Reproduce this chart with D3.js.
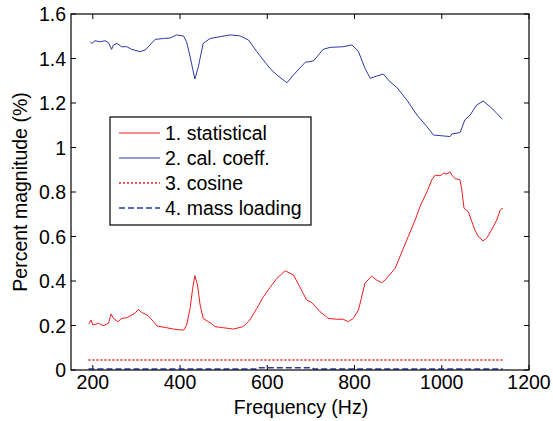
<!DOCTYPE html>
<html>
<head>
<meta charset="utf-8">
<script src="https://cdn.jsdelivr.net/npm/d3@7"></script>
<style>
  body { margin: 0; background: #fff; }
  svg text { font-family: "Liberation Sans", Arial, sans-serif; fill: #000; }
</style>
</head>
<body>
<div id="chart"></div>
<script>
// series data (frequency in Hz, percent magnitude)
var statFreq = [191, 196, 200, 213, 224, 236, 242, 247, 258, 266, 278, 289, 297, 304, 312, 327, 339, 347, 369, 385, 400, 409, 415, 423, 429, 434, 440, 446, 453, 465, 469, 480, 499, 522, 545, 560, 576, 591, 606, 622, 641, 660, 675, 690, 702, 721, 740, 759, 774, 786, 797, 809, 824, 839, 851, 862, 870, 893, 912, 923, 939, 950, 966, 977, 985, 996, 1004, 1011, 1019, 1023, 1030, 1042, 1046, 1051, 1061, 1069, 1076, 1084, 1088, 1094, 1103, 1114, 1126, 1134, 1140];
var statVal = [0.207, 0.225, 0.202, 0.210, 0.199, 0.210, 0.252, 0.232, 0.217, 0.232, 0.235, 0.247, 0.255, 0.273, 0.259, 0.244, 0.217, 0.198, 0.190, 0.184, 0.180, 0.180, 0.202, 0.277, 0.367, 0.424, 0.382, 0.292, 0.232, 0.217, 0.213, 0.195, 0.190, 0.184, 0.195, 0.225, 0.277, 0.329, 0.370, 0.412, 0.446, 0.427, 0.372, 0.315, 0.303, 0.262, 0.232, 0.228, 0.228, 0.217, 0.232, 0.270, 0.390, 0.422, 0.404, 0.392, 0.404, 0.457, 0.547, 0.599, 0.674, 0.734, 0.801, 0.854, 0.876, 0.873, 0.884, 0.881, 0.891, 0.876, 0.861, 0.854, 0.809, 0.727, 0.711, 0.667, 0.629, 0.599, 0.595, 0.580, 0.592, 0.629, 0.674, 0.719, 0.727];

var calFreq = [194, 198, 205, 217, 228, 236, 243, 247, 255, 266, 278, 289, 308, 320, 331, 343, 362, 377, 392, 408, 415, 423, 434, 442, 453, 469, 492, 515, 537, 557, 576, 591, 606, 622, 645, 660, 687, 706, 728, 744, 774, 794, 809, 824, 836, 851, 866, 881, 897, 920, 943, 966, 981, 1004, 1019, 1023, 1042, 1053, 1065, 1080, 1095, 1111, 1126, 1139];
var calVal = [1.475, 1.468, 1.480, 1.475, 1.480, 1.471, 1.441, 1.460, 1.468, 1.453, 1.453, 1.441, 1.431, 1.438, 1.461, 1.486, 1.490, 1.492, 1.506, 1.501, 1.475, 1.408, 1.308, 1.363, 1.468, 1.490, 1.498, 1.506, 1.502, 1.483, 1.431, 1.393, 1.356, 1.326, 1.291, 1.326, 1.383, 1.389, 1.441, 1.450, 1.453, 1.461, 1.431, 1.356, 1.311, 1.321, 1.330, 1.296, 1.270, 1.213, 1.146, 1.094, 1.056, 1.052, 1.049, 1.061, 1.067, 1.124, 1.146, 1.191, 1.209, 1.183, 1.154, 1.127];

var cosFreq = [190, 1140];
var cosVal = [0.045, 0.045];

var massFreq = [190, 577, 579, 704, 706, 1140];
var massVal = [0.0045, 0.0045, 0.010, 0.010, 0.0045, 0.0045];

var xTicks = [200, 400, 600, 800, 1000, 1200];
var yTicks = [0, 0.2, 0.4, 0.6, 0.8, 1, 1.2, 1.4, 1.6];

var legendLabels = ['1. statistical', '2. cal. coeff.', '3. cosine', '4. mass loading'];

function zip(fs, vs) {
    return fs.map(function(f, i) { return [f, vs[i]]; });
}

function draw() {
    var w = 553, h = 421;
    var margin = {top: 14, right: 24, bottom: 51, left: 71};
    var fs = '19.5px';

    var svg = d3.select('#chart').append('svg')
        .attr('width', w)
        .attr('height', h);

    var x = d3.scaleLinear().domain([150, 1200]).range([margin.left, w - margin.right]);
    var y = d3.scaleLinear().domain([0, 1.6]).range([h - margin.bottom, margin.top]);

    var x0 = x.range()[0], x1 = x.range()[1];
    var y0 = y.range()[0], y1 = y.range()[1];

    var line = d3.line()
        .x(function(d) { return x(d[0]); })
        .y(function(d) { return y(d[1]); });

    var series = [
        {data: zip(statFreq, statVal), color: '#f01c1c', dash: null, width: 1},
        {data: zip(calFreq, calVal), color: '#2a3aa6', dash: null, width: 1},
        {data: zip(cosFreq, cosVal), color: '#f01c1c', dash: '2,2', width: 1.5},
        {data: zip(massFreq, massVal), color: '#2a3aa6', dash: '6,3', width: 1.5}
    ];

    // ticks (inside, on all four sides)
    var tl = 5;
    var g = svg.append('g');
    xTicks.forEach(function(t) {
        g.append('line').attr('x1', x(t)).attr('x2', x(t)).attr('y1', y0).attr('y2', y0 - tl)
            .attr('stroke', '#000').attr('stroke-width', 1);
        g.append('line').attr('x1', x(t)).attr('x2', x(t)).attr('y1', y1).attr('y2', y1 + tl)
            .attr('stroke', '#000').attr('stroke-width', 1);
        g.append('text').attr('x', x(t)).attr('y', y0 + 18.5)
            .attr('text-anchor', 'middle').style('font-size', fs).text(t);
    });
    yTicks.forEach(function(t) {
        g.append('line').attr('x1', x0).attr('x2', x0 + tl).attr('y1', y(t)).attr('y2', y(t))
            .attr('stroke', '#000').attr('stroke-width', 1);
        g.append('line').attr('x1', x1).attr('x2', x1 - tl).attr('y1', y(t)).attr('y2', y(t))
            .attr('stroke', '#000').attr('stroke-width', 1);
        g.append('text').attr('x', x0 - 5).attr('y', y(t)).attr('dy', '0.36em')
            .attr('text-anchor', 'end').style('font-size', fs).text(d3.format('~g')(t));
    });

    // series
    series.forEach(function(s) {
        svg.append('path')
            .datum(s.data)
            .attr('d', line)
            .attr('fill', 'none')
            .attr('stroke', s.color)
            .attr('stroke-width', s.width)
            .attr('stroke-dasharray', s.dash);
    });

    // frame
    svg.append('rect')
        .attr('x', x0).attr('y', y1)
        .attr('width', x1 - x0).attr('height', y0 - y1)
        .attr('fill', 'none').attr('stroke', '#000').attr('stroke-width', 1.2);

    // axis labels
    svg.append('text')
        .attr('x', (x0 + x1) / 2 + 1).attr('y', 414)
        .attr('text-anchor', 'middle').style('font-size', fs)
        .text('Frequency (Hz)');
    svg.append('text')
        .attr('transform', 'translate(27,' + ((y0 + y1) / 2) + ') rotate(-90)')
        .attr('text-anchor', 'middle').style('font-size', fs)
        .text('Percent magnitude (%)');

    // legend
    var lg = svg.append('g').attr('transform', 'translate(110,117)');
    lg.append('rect').attr('width', 201).attr('height', 108)
        .attr('fill', '#fff').attr('stroke', '#000').attr('stroke-width', 1.2);
    legendLabels.forEach(function(lab, i) {
        var s = series[i];
        var yy = 16 + i * 25;
        lg.append('line').attr('x1', 9).attr('x2', 50).attr('y1', yy).attr('y2', yy)
            .attr('stroke', s.color).attr('stroke-width', s.width)
            .attr('stroke-dasharray', s.dash);
        lg.append('text').attr('x', 55).attr('y', yy).attr('dy', '0.36em')
            .style('font-size', fs).text(lab);
    });
}

draw();
</script>
</body>
</html>
